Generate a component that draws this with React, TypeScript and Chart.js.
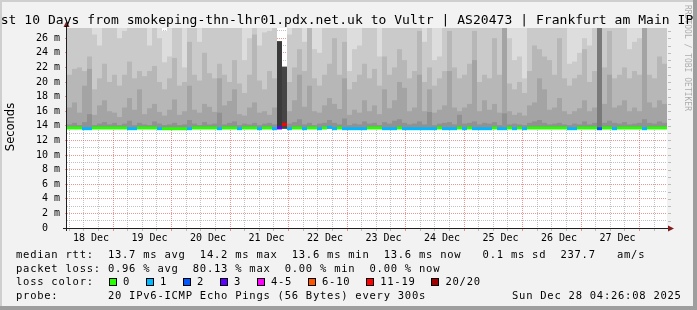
import { useEffect, useRef } from 'react';
import { Chart, registerables } from 'chart.js';

Chart.register(...registerables);

// ---------- text ----------
const TITLE = 'Last 10 Days from smokeping-thn-lhr01.pdx.net.uk to Vultr | AS20473 | Frankfurt am Main IPv6';
const Y_TITLE = 'Seconds';
const WATERMARK = 'RRDTOOL / TOBI OETIKER';
const LEGEND_MEDIAN = 'median rtt:  13.7 ms avg  14.2 ms max  13.6 ms min  13.6 ms now   0.1 ms sd  237.7   am/s';
const LEGEND_LOSS = 'packet loss: 0.96 % avg  80.13 % max  0.00 % min  0.00 % now';
const LEGEND_COLOR = 'loss color:';
const LEGEND_PROBE = 'probe:       20 IPv6-ICMP Echo Pings (56 Bytes) every 300s';
const STAMP = 'Sun Dec 28 04:26:08 2025';

// ---------- axes ----------
// hours counted from 18 Dec 00:00
const rangeStartHour = 5.2;
const rangeEndHour = 245.2;
const dayLabels = ['18 Dec', '19 Dec', '20 Dec', '21 Dec', '22 Dec', '23 Dec', '24 Dec', '25 Dec', '26 Dec', '27 Dec'];
const dayLabelHours = [12, 36, 60, 84, 108, 132, 156, 180, 204, 228];
const yMax = 27.4;
const yTickValues = [0, 1, 2, 3, 4, 5, 6, 7, 8, 9, 10, 11, 12, 13, 14, 15, 16, 17, 18, 19, 20, 21, 22, 23, 24, 25, 26, 27];

// ---------- data (ms), one column per 2 hours ----------
const smokeBase = 13.6;
const medianRtt = [
  13.7, 13.7, 13.7, 13.6, 13.6, 13.7, 13.7, 13.7, 13.7, 13.7, 13.7, 13.7,
  13.6, 13.6, 13.7, 13.7, 13.7, 13.7, 13.6, 13.6, 13.6, 13.6, 13.6, 13.6,
  13.6, 13.7, 13.7, 13.7, 13.7, 13.7, 13.6, 13.7, 13.7, 13.7, 13.6, 13.7,
  13.7, 13.7, 13.6, 13.7, 13.7, 13.6, 13.7, 14.2, 13.6, 13.7, 13.7, 13.6,
  13.7, 13.7, 13.6, 13.7, 13.8, 13.6, 13.7, 13.6, 13.6, 13.6, 13.6, 13.6,
  13.7, 13.7, 13.7, 13.6, 13.6, 13.6, 13.7, 13.6, 13.6, 13.6, 13.6, 13.6,
  13.6, 13.6, 13.7, 13.6, 13.6, 13.6, 13.7, 13.6, 13.7, 13.6, 13.6, 13.6,
  13.6, 13.7, 13.6, 13.6, 13.7, 13.6, 13.7, 13.6, 13.7, 13.7, 13.7, 13.7,
  13.7, 13.7, 13.7, 13.7, 13.6, 13.6, 13.7, 13.7, 13.7, 13.7, 13.6, 13.7,
  13.7, 13.6, 13.7, 13.7, 13.7, 13.7, 13.7, 13.6, 13.7, 13.7, 13.7, 13.7,
];
// index into lossColors
const lossBucket = [
  0, 0, 0, 1, 1, 0, 0, 0, 0, 0, 0, 0,
  1, 1, 0, 0, 0, 0, 1, 0, 0, 0, 0, 0,
  1, 0, 0, 0, 0, 0, 1, 0, 0, 0, 1, 0,
  0, 0, 1, 0, 0, 1, 3, 6, 1, 0, 0, 1,
  0, 0, 1, 0, 1, 1, 0, 1, 1, 1, 1, 1,
  0, 0, 0, 1, 1, 1, 0, 1, 1, 1, 1, 1,
  1, 1, 0, 1, 1, 1, 0, 1, 0, 1, 1, 1,
  1, 0, 1, 1, 0, 1, 0, 1, 0, 0, 0, 0,
  0, 0, 0, 0, 1, 1, 0, 0, 0, 0, 2, 0,
  0, 1, 0, 0, 0, 0, 0, 1, 0, 0, 0, 0,
];
const smoke1Top = [
  14.2, 14.4, 14.1, 14.5, 15.6, 14.1, 14.3, 14.5, 14.2, 14.4, 14.1, 14.3,
  14.7, 14.1, 14.4, 14.2, 14.1, 14.6, 14.3, 14.1, 14.2, 14.4, 14.1, 14.2,
  14.8, 14.3, 14.1, 14.5, 14.2, 14.3, 15.8, 14.2, 14.4, 14.6, 14.1, 14.3,
  14.2, 14.4, 14.1, 14.3, 14.4, 14.2, 14.2, 14.2, 14.3, 14.5, 14.9, 14.2,
  14.4, 14.1, 14.3, 14.4, 14.8, 14.4, 14.2, 15.0, 14.1, 14.3, 14.2, 14.6,
  14.3, 14.4, 14.1, 14.5, 14.3, 14.7, 14.9, 14.4, 14.2, 14.3, 14.6, 14.2,
  15.9, 14.1, 14.3, 14.4, 14.5, 14.2, 15.5, 14.3, 14.4, 14.6, 14.2, 14.4,
  14.3, 14.5, 14.1, 15.7, 14.2, 14.3, 14.2, 14.1, 14.4, 14.6, 14.8, 14.4,
  14.2, 14.3, 14.4, 14.2, 14.1, 14.3, 14.2, 14.6, 14.2, 14.4, 14.4, 14.4,
  14.7, 14.4, 14.3, 14.5, 14.2, 14.3, 14.4, 14.9, 14.4, 14.3, 14.6, 14.4,
];
const smoke2Top = [
  16.5, 17.2, 15.8, 19.5, 21.8, 15.5, 16.8, 17.5, 16.0, 15.8, 15.2, 16.5,
  17.8, 16.2, 19.0, 15.6, 16.4, 17.0, 15.9, 15.4, 16.2, 17.6, 15.5, 16.0,
  19.5, 16.2, 15.8, 17.0, 16.6, 15.9, 20.5, 16.8, 17.4, 19.0, 15.6, 15.4,
  16.5, 17.2, 15.8, 16.0, 15.5, 16.5, 15.0, 15.0, 16.0, 17.5, 21.0, 16.6,
  19.5, 16.0, 15.8, 16.8, 17.8, 17.0, 16.3, 20.5, 15.5, 16.2, 15.8, 17.5,
  16.0, 16.8, 15.6, 19.0, 16.4, 17.5, 20.0, 19.2, 16.0, 16.5, 21.0, 16.0,
  19.0, 15.8, 16.2, 16.8, 21.5, 16.5, 16.0, 16.5, 17.0, 23.0, 16.0, 17.5,
  16.2, 17.0, 15.8, 28.0, 16.0, 15.5, 15.8, 15.4, 16.8, 17.2, 20.5, 19.0,
  16.2, 16.5, 17.8, 16.0, 15.6, 16.0, 16.4, 17.5, 16.0, 16.5, 16.0, 17.0,
  21.0, 16.5, 16.8, 17.5, 16.0, 16.5, 16.0, 28.0, 17.2, 16.5, 17.5, 17.0,
];
const smoke3Top = [
  21.0, 21.8, 22.0, 21.5, 23.5, 19.0, 20.5, 22.5, 20.0, 21.0, 19.5, 21.0,
  22.8, 20.5, 21.5, 20.8, 21.5, 22.2, 20.0, 19.0, 20.5, 23.3, 19.5, 20.0,
  25.5, 21.0, 20.2, 24.0, 21.2, 20.5, 22.5, 21.0, 20.0, 23.0, 19.8, 18.5,
  21.0, 26.5, 20.2, 19.0, 21.5, 20.5, 18.0, 18.0, 20.0, 22.0, 24.5, 21.5,
  28.0, 20.5, 19.5, 21.0, 22.5, 26.0, 21.0, 25.5, 19.0, 20.0, 21.0, 22.5,
  20.5, 21.8, 19.5, 23.5, 21.0, 22.0, 24.5, 23.0, 20.5, 21.5, 27.0, 20.0,
  22.0, 19.5, 20.5, 21.5, 27.0, 22.0, 20.5, 21.0, 22.5, 27.0, 20.0, 21.0,
  20.5, 26.0, 21.0, 28.0, 19.8, 19.0, 20.0, 18.5, 21.5, 25.0, 24.5, 23.5,
  23.0, 21.0, 26.0, 20.5, 19.5, 20.5, 21.0, 24.5, 20.0, 21.5, 20.0, 22.0,
  27.0, 20.5, 21.0, 22.0, 20.5, 21.5, 21.0, 28.0, 21.0, 20.5, 23.5, 22.5,
];
const smoke4Top = [
  30, 30, 30, 30, 30, 26.5, 25.0, 30, 30, 30, 26.0, 27.0,
  30, 30, 30, 30, 25.0, 30, 26.0, 22.7, 23.5, 30, 30, 22.0,
  30, 30, 25.5, 30, 30, 30, 30, 30, 30, 30, 30, 23.0,
  26.0, 30, 25.0, 26.8, 27.0, 30, 25.6, 22.1, 26.5, 30, 30, 25.5,
  30, 24.5, 24.0, 30, 30, 30, 30, 30, 21.5, 24.5, 25.0, 30,
  30, 30, 23.5, 30, 30, 30, 30, 30, 30, 30, 30, 25.5,
  30, 23.0, 23.5, 30, 30, 30, 30, 30, 30, 30, 30, 30,
  30, 30, 30, 30, 26.0, 23.0, 23.5, 20.5, 30, 30, 30, 30,
  30, 30, 30, 30, 22.5, 22.8, 24.0, 26.0, 25.0, 30, 30, 30,
  30, 30, 30, 30, 24.5, 25.5, 26.0, 30, 30, 30, 30, 30,
];
const smoke5Top = [
  30, 30, 30, 30, 30, 30, 30, 30, 30, 30, 30, 30,
  30, 30, 30, 30, 30, 30, 30, 27.0, 30, 30, 30, 30,
  30, 30, 30, 30, 30, 30, 30, 30, 30, 30, 30, 30,
  30, 30, 30, 30, 30, 30, 25.6, 22.1, 30, 30, 30, 30,
  30, 30, 30, 30, 30, 30, 30, 30, 30, 28.5, 30, 30,
  30, 30, 30, 30, 30, 30, 30, 30, 30, 30, 30, 30,
  30, 30, 30, 30, 30, 30, 30, 30, 30, 30, 30, 30,
  30, 30, 30, 30, 30, 27.5, 30, 28.0, 30, 30, 30, 30,
  30, 30, 30, 30, 30, 30, 30, 30, 30, 30, 30, 30,
  30, 30, 30, 30, 30, 30, 30, 30, 30, 30, 30, 30,
];
// dense dark columns (high-loss periods)
const darkCols = [42, 43, 106];
const darkTops = [25.6, 22.1, 30];
const darkShades = ['#3a3a3a', '#454545', '#7a7a7a'];

const smokeShades = ['#919191', '#a4a4a4', '#b7b7b7', '#cacaca', '#dddddd'];
const lossLabels = ['0', '1', '2', '3', '4-5', '6-10', '11-19', '20/20'];
const lossColors = ['#26ff00', '#00b8ff', '#0059ff', '#5e00ff', '#ff00ff', '#ff5500', '#ff0000', '#a10000'];

// ---------- styling ----------
const MONO = '"DejaVu Sans Mono", monospace';
const GRID = 'rgba(143,143,143,0.55)';
const MGRID = 'rgba(222,79,79,0.6)';
const BACK = '#f2f2f2';

function drawMono(ctx: CanvasRenderingContext2D, text: string, x: number, y: number, adv: number) {
  for (let i = 0; i < text.length; i++) {
    const ch = text[i];
    if (ch !== ' ') ctx.fillText(ch, x + i * adv, y);
  }
}

const decoPlugin = {
  id: 'deco',
  beforeDraw(chart: any) {
    const { ctx, chartArea: a } = chart;
    ctx.save();
    ctx.fillStyle = BACK;
    ctx.fillRect(0, 0, chart.width, chart.height);
    ctx.fillStyle = '#ffffff';
    ctx.fillRect(a.left, a.top, a.right - a.left, a.bottom - a.top);
    ctx.restore();
  },
  afterDraw(chart: any) {
    const { ctx, chartArea: a } = chart;
    const yScale = chart.scales.y;
    ctx.save();
    // grid stubs right of the plot
    ctx.strokeStyle = GRID;
    ctx.lineWidth = 1;
    ctx.beginPath();
    for (const v of yTickValues) {
      if (v === 0) continue;
      const py = Math.round(yScale.getPixelForValue(v)) + 0.5;
      ctx.moveTo(a.right + 1, py);
      ctx.lineTo(a.right + 4, py);
    }
    ctx.stroke();
    // axis lines
    ctx.strokeStyle = '#1f1f1f';
    ctx.beginPath();
    ctx.moveTo(a.left - 4, a.bottom + 0.5);
    ctx.lineTo(a.right + 2, a.bottom + 0.5);
    ctx.moveTo(a.left - 0.5, a.bottom + 3);
    ctx.lineTo(a.left - 0.5, a.top - 2);
    ctx.stroke();
    // arrows
    ctx.fillStyle = '#801f1f';
    ctx.beginPath();
    ctx.moveTo(a.left - 0.5, a.top - 7);
    ctx.lineTo(a.left - 3.5, a.top - 1);
    ctx.lineTo(a.left + 2.5, a.top - 1);
    ctx.closePath();
    ctx.fill();
    ctx.beginPath();
    ctx.moveTo(a.right + 7, a.bottom + 0.5);
    ctx.lineTo(a.right + 1, a.bottom - 2.5);
    ctx.lineTo(a.right + 1, a.bottom + 3.5);
    ctx.closePath();
    ctx.fill();

    // watermark
    ctx.save();
    ctx.translate(685, 5);
    ctx.rotate(Math.PI / 2);
    ctx.fillStyle = 'rgba(0,0,0,0.3)';
    ctx.font = '8px ' + MONO;
    ctx.textAlign = 'left';
    ctx.textBaseline = 'alphabetic';
    ctx.fillText(WATERMARK, 0, 0);
    ctx.restore();

    // title
    ctx.fillStyle = '#000';
    ctx.font = '13px ' + MONO;
    ctx.textAlign = 'left';
    ctx.textBaseline = 'alphabetic';
    drawMono(ctx, TITLE, -15, 24, 7.87);

    // y title
    ctx.save();
    ctx.translate(14, 127);
    ctx.rotate(-Math.PI / 2);
    ctx.font = '11.5px "DejaVu Sans", sans-serif';
    ctx.textAlign = 'center';
    ctx.fillText(Y_TITLE, 0, 0);
    ctx.restore();

    // legend
    const adv = 7.07;
    const lx = 16;
    ctx.font = '10.5px ' + MONO;
    drawMono(ctx, LEGEND_MEDIAN, lx, 258, adv);
    drawMono(ctx, LEGEND_LOSS, lx, 271.6, adv);
    drawMono(ctx, LEGEND_COLOR, lx, 285.2, adv);
    drawMono(ctx, LEGEND_PROBE, lx, 298.8, adv);
    drawMono(ctx, STAMP, 512, 298.8, adv);
    let bx = 108.7;
    for (let i = 0; i < lossLabels.length; i++) {
      const rx = Math.round(bx);
      ctx.fillStyle = lossColors[i];
      ctx.fillRect(rx, 278, 8, 8);
      ctx.strokeStyle = '#000';
      ctx.strokeRect(rx + 0.5, 278.5, 7, 7);
      ctx.fillStyle = '#000';
      drawMono(ctx, lossLabels[i], bx + 14.3, 285.2, adv);
      bx += 29.9 + lossLabels[i].length * adv;
    }

    // 3d frame
    ctx.fillStyle = '#cfcfcf';
    ctx.fillRect(0, 0, chart.width, 2);
    ctx.fillRect(0, 0, 2, chart.height);
    ctx.fillStyle = '#9e9e9e';
    ctx.fillRect(chart.width - 4, 0, 4, chart.height);
    ctx.fillRect(0, chart.height - 4, chart.width, 4);
    ctx.restore();
  },
};

export default function App() {
  const ref = useRef<HTMLCanvasElement>(null);
  useEffect(() => {
    const canvas = ref.current;
    if (!canvas) return;
    const columns = medianRtt.map((_, i) => String(i));
    const darkData = medianRtt.map((_, i) => {
      const j = darkCols.indexOf(i);
      return j >= 0 ? darkTops[j] : null;
    });
    const darkColors = medianRtt.map((_, i) => {
      const j = darkCols.indexOf(i);
      return j >= 0 ? darkShades[j] : '#000';
    });
    const smokeTops = [smoke1Top, smoke2Top, smoke3Top, smoke4Top, smoke5Top];
    const common = {
      type: 'bar' as const,
      xAxisID: 'x',
      yAxisID: 'y',
      barPercentage: 1,
      categoryPercentage: 1,
      grouped: false,
      borderWidth: 0,
      inflateAmount: 0,
      clip: 0,
    };
    const datasets: any[] = [
      {
        ...common,
        label: 'median',
        order: 0,
        data: medianRtt.map((v) => [v - 0.2, v + 0.2]),
        backgroundColor: lossBucket.map((b) => lossColors[b]),
      },
      {
        ...common,
        label: 'dark',
        order: 1,
        base: smokeBase,
        data: darkData,
        backgroundColor: darkColors,
      },
      ...smokeTops.map((arr, i) => ({
        ...common,
        label: 'smoke' + (i + 1),
        order: 2 + i,
        base: smokeBase,
        data: arr,
        backgroundColor: smokeShades[i],
      })),
    ];
    const gridHours: number[] = [];
    for (let h = 6; h <= 240; h += 6) gridHours.push(h);

    const chart = new Chart(canvas, {
      type: 'bar',
      data: { labels: columns, datasets },
      options: {
        responsive: false,
        devicePixelRatio: 1,
        animation: false,
        events: [],
        layout: { padding: { left: 0, right: 30, top: 28, bottom: 0 } },
        plugins: { legend: { display: false }, tooltip: { enabled: false }, title: { display: false } },
        scales: {
          x: { type: 'category', display: false, offset: true, grid: { display: false } },
          xt: {
            type: 'linear',
            axis: 'x',
            position: 'bottom',
            min: rangeStartHour,
            max: rangeEndHour,
            z: 1,
            afterBuildTicks: (s: any) => {
              s.ticks = gridHours.map((v) => ({ value: v }));
            },
            afterFit: (s: any) => {
              s.height = 82;
            },
            grid: {
              color: (c: any) => (c.tick && c.tick.value % 24 === 0 ? MGRID : GRID),
              tickColor: (c: any) => (c.tick && c.tick.value % 24 === 0 ? MGRID : GRID),
              lineWidth: 1,
              drawTicks: true,
              tickLength: 3,
            },
            border: { display: false, dash: [1, 1] },
            ticks: {
              autoSkip: false,
              maxRotation: 0,
              minRotation: 0,
              padding: 1,
              color: '#000',
              font: { family: MONO, size: 10 },
              callback: (v: any) => {
                const i = dayLabelHours.indexOf(Number(v));
                return i >= 0 ? dayLabels[i] : '';
              },
            },
          },
          y: {
            type: 'linear',
            min: 0,
            max: yMax,
            z: 1,
            afterBuildTicks: (s: any) => {
              s.ticks = yTickValues.map((v) => ({ value: v }));
            },
            afterFit: (s: any) => {
              s.width = 67;
            },
            grid: {
              color: (c: any) => (c.tick && c.tick.value % 2 === 0 ? MGRID : GRID),
              tickColor: (c: any) => (c.tick && c.tick.value % 2 === 0 ? MGRID : 'rgba(0,0,0,0)'),
              lineWidth: 1,
              drawTicks: true,
              tickLength: 2,
            },
            border: { display: false, dash: [1, 1] },
            ticks: {
              autoSkip: false,
              padding: 5,
              color: '#000',
              font: { family: MONO, size: 10 },
              callback: (v: any) => {
                const n = Number(v);
                if (n % 2 !== 0) return '';
                return n === 0 ? '0  ' : n + ' m';
              },
            },
          },
        } as any,
      },
      plugins: [decoPlugin],
    } as any);
    return () => chart.destroy();
  }, []);
  return (
    <div style={{ position: 'fixed', left: 0, top: 0, width: 697, height: 310 }}>
      <canvas ref={ref} width={697} height={310} style={{ display: 'block', width: 697, height: 310 }} />
    </div>
  );
}
